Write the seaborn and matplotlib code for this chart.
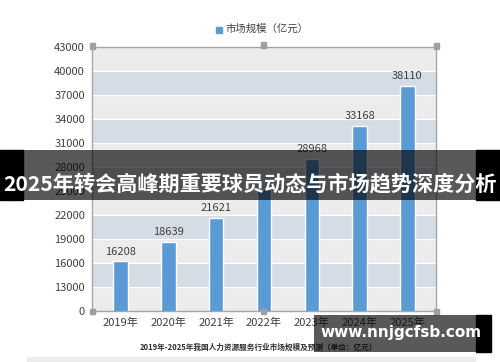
import matplotlib
matplotlib.use("Agg")
import matplotlib.pyplot as plt
import seaborn as sns
import pandas as pd
from matplotlib.patches import Rectangle

years = ["2019年", "2020年", "2021年", "2022年", "2023年", "2024年", "2025年"]
market_size = [16208, 18639, 21621, 25200, 28968, 33168, 38110]
value_labels = ["16208", "18639", "21621", "", "28968", "33168", "38110"]
y_ticks = [10000, 13000, 16000, 19000, 22000, 25000, 28000, 31000, 34000, 37000, 40000, 43000]
y_tick_labels = ["0", "13000", "16000", "19000", "22000", "25000", "28000", "31000", "34000", "37000", "40000", "43000"]
legend_label = "市场规模（亿元）"
bottom_title = "2019年-2025年我国人力资源服务行业市场规模及预测（单位：亿元）"
banner_text = "2025年转会高峰期重要球员动态与市场趋势深度分析"
watermark = "www.nnjgcfsb.com"

sns.set_theme(style="white")
plt.rcParams['font.family'] = ['Noto Sans CJK SC', 'DejaVu Sans']

W, H = 500, 362
fig = plt.figure(figsize=(5, 3.62), dpi=100)
fig.patch.set_facecolor("white")

def fx(x): return x / W
def fy(y): return 1 - y / H

ax = fig.add_axes([fx(92), fy(311), fx(436) - fx(92), fy(47) - fy(311)])
df = pd.DataFrame({"year": years, "size": market_size})

# alternating bands
for i in range(len(y_ticks) - 1):
    c = "#ececec" if i % 2 == 0 else "#d6dce5"
    ax.axhspan(y_ticks[i], y_ticks[i + 1], color=c, zorder=0, lw=0)
for t in y_ticks[1:-1]:
    ax.axhline(t, color="white", lw=0.8, zorder=0.5)

sns.barplot(data=df, x="year", y="size", color="#5b9bd5", width=0.3,
            saturation=1, ax=ax, zorder=2)
ax.set_ylim(10000, 43000)
ax.set_xlim(-0.6, 6.6)
ax.set_yticks(y_ticks)
ax.set_yticklabels(y_tick_labels)
ax.set_xlabel("")
ax.set_ylabel("")
ax.tick_params(axis="both", length=0, labelsize=8, colors="#404040", pad=5)
for s in ax.spines.values():
    s.set_color("#a6a6a6")
    s.set_linewidth(1.0)

for i, (v, lab) in enumerate(zip(market_size, value_labels)):
    if lab:
        ax.text(i, v + 600, lab, ha="center", va="bottom", fontsize=8, color="#404040", zorder=3)

# legend
fig.patches.append(Rectangle((fx(216), fy(33)), fx(6), 6 / H, transform=fig.transFigure,
                             color="#5b9bd5", figure=fig))
fig.text(fx(226), fy(29), legend_label, fontsize=7.5, color="#404040", va="center", ha="left")

# selection handles
for (hx, hy) in [(92, 46), (263, 45), (436, 46), (92, 311), (263, 311), (436, 311)]:
    fig.patches.append(Rectangle((fx(hx - 2.5), fy(hy + 2.5)), 5 / W, 5 / H, transform=fig.transFigure,
                                 color="#a0a0a0", figure=fig, zorder=5))

# bottom title
fig.text(fx(140), fy(347), bottom_title, fontsize=5.5, fontweight="bold", color="#303030",
         va="center", ha="left")
fig.patches.append(Rectangle((fx(27), 0), fx(475) - fx(27), 5 / H, transform=fig.transFigure,
                             color="#ececec", figure=fig))

# banner
fig.patches.append(Rectangle((0, fy(200)), fx(23), 50 / H, transform=fig.transFigure,
                             color="black", figure=fig, zorder=10))
fig.patches.append(Rectangle((fx(476), fy(200)), 1 - fx(476), 50 / H, transform=fig.transFigure,
                             color="black", figure=fig, zorder=10))
fig.patches.append(Rectangle((fx(23), fy(200)), fx(476) - fx(23), 50 / H, transform=fig.transFigure,
                             facecolor="black", alpha=0.65, edgecolor="none", figure=fig, zorder=11))
fig.text(0.5, fy(184), banner_text, fontsize=15.2, fontweight="bold", color="white",
         ha="center", va="center", zorder=12)

# watermark
fig.patches.append(Rectangle((fx(476), fy(352)), fx(491) - fx(476), 37 / H, transform=fig.transFigure,
                             color="black", figure=fig, zorder=10))
fig.patches.append(Rectangle((fx(314), fy(352)), fx(476) - fx(314), 37 / H, transform=fig.transFigure,
                             facecolor="black", alpha=0.65, edgecolor="none", figure=fig, zorder=11))
fig.text(fx(401), fy(333), watermark, fontsize=11, fontweight="bold", color="white",
         ha="center", va="center", family=["DejaVu Sans"], zorder=12)

fig.savefig("out.png", dpi=100)
